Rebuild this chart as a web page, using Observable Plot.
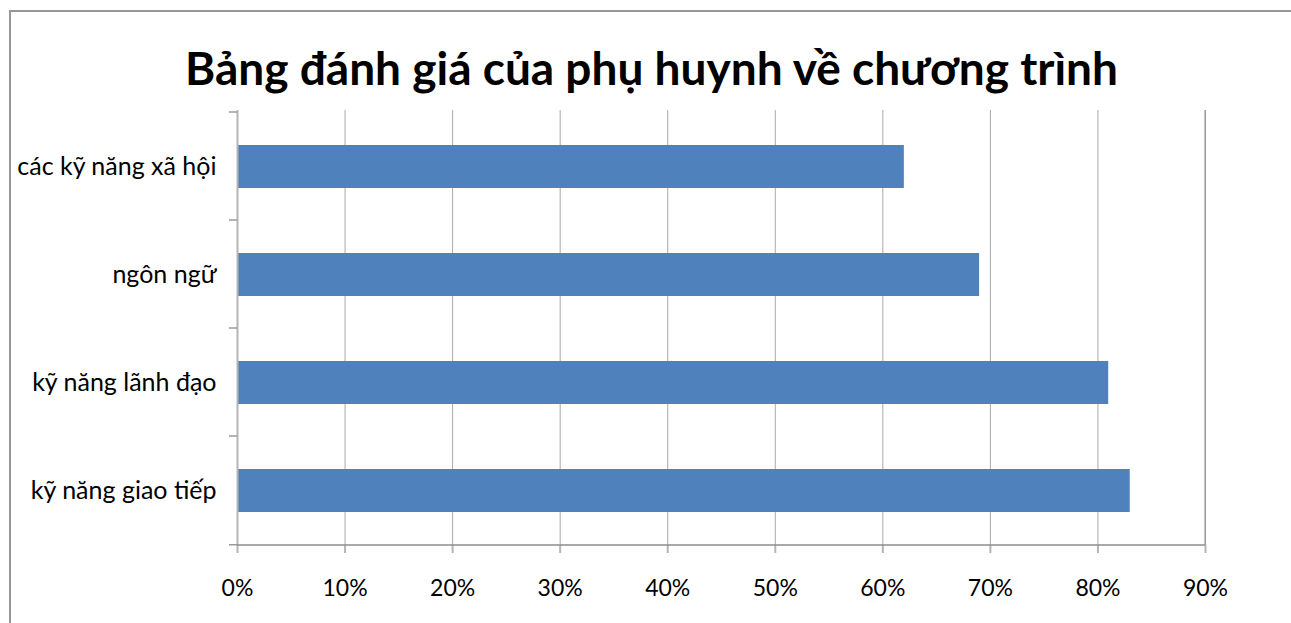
<!DOCTYPE html>
<html>
<head>
<meta charset="utf-8">
<script src="https://cdn.jsdelivr.net/npm/d3@7"></script>
<script src="https://cdn.jsdelivr.net/npm/@observablehq/plot@0.6"></script>
<style>
  html, body { margin: 0; padding: 0; background: #fff; }
  #wrap { position: relative; width: 1291px; height: 623px; overflow: hidden; font-family: Lato, "Open Sans", sans-serif; }
  #border { position: absolute; left: 9px; top: 10px; width: 1400px; height: 700px; border: 2px solid #979797; box-sizing: border-box; }
  #title { position: absolute; left: 12px; width: 1279px; top: 45px; text-align: center; font-size: 46px; line-height: 46px; font-weight: bold; color: #000; }
  #chart { position: absolute; left: 0; top: 0; }
</style>
</head>
<body>
<div id="wrap">
  <div id="border"></div>
  <div id="title">Bảng đánh giá của phụ huynh về chương trình</div>
  <div id="chart"></div>
</div>
<script>
const categories = ["các kỹ năng xã hội", "ngôn ngữ", "kỹ năng lãnh đạo", "kỹ năng giao tiếp"];
const values = [0.62, 0.69, 0.81, 0.83];
const xTicks = [0, 0.1, 0.2, 0.3, 0.4, 0.5, 0.6, 0.7, 0.8, 0.9];

const data = categories.map((c, i) => ({category: c, value: values[i]}));

function categoryTicks(index, scales, values, dimensions) {
  const {width, height, marginLeft, marginRight, marginTop, marginBottom} = dimensions;
  const y = scales.y;
  const x = scales.x;
  const bw = (height - marginTop - marginBottom) / categories.length;
  const g = d3.create("svg:g");
  const bounds = categories.map(c => y(c)).concat([y(categories[categories.length - 1]) + bw]);
  g.selectAll("line.t").data(bounds).join("line")
    .attr("x1", x(0) - 8).attr("x2", x(0))
    .attr("y1", d => d).attr("y2", d => d)
    .attr("stroke", "#9a9a9a").attr("stroke-width", 1.5);
  g.append("line")
    .attr("x1", x(0)).attr("x2", x(xTicks[xTicks.length - 1]))
    .attr("y1", height - marginBottom).attr("y2", height - marginBottom)
    .attr("stroke", "#8c8c8c").attr("stroke-width", 1.5);
  g.append("line")
    .attr("x1", x(xTicks[xTicks.length - 1])).attr("x2", x(xTicks[xTicks.length - 1]))
    .attr("y1", marginTop).attr("y2", height - marginBottom)
    .attr("stroke", "#8c8c8c").attr("stroke-width", 1);
  return g.node();
}

const chart = Plot.plot({
  width: 1291,
  height: 623,
  marginLeft: 237,
  marginRight: 86,
  marginTop: 110,
  marginBottom: 78,
  style: {fontFamily: "Lato, 'Open Sans', sans-serif", fontSize: "23px", color: "#000", background: "transparent", overflow: "visible"},
  x: {domain: [0, 0.9]},
  y: {domain: categories, padding: 0},
  marks: [
    Plot.gridX(xTicks, {stroke: "#a8a8a8", strokeOpacity: 1, strokeWidth: 1}),
    Plot.barX(data, {y: "category", x: "value", fill: "#4f81bd", insetTop: 33, insetBottom: 32}),
    Plot.ruleX([0], {stroke: "#b5b5b5", strokeWidth: 2}),
    Plot.axisX(xTicks, {tickFormat: d3.format(".0%"), tickSize: 8, tickPadding: 26, stroke: "#b5b5b5", strokeWidth: 2, fill: "#000", label: null, fontSize: 23}),
    Plot.axisY({tickSize: 0, tickPadding: 21, label: null, fill: "#000", fontSize: 25}),
    categoryTicks
  ]
});
document.getElementById("chart").appendChild(chart);
</script>
</body>
</html>
